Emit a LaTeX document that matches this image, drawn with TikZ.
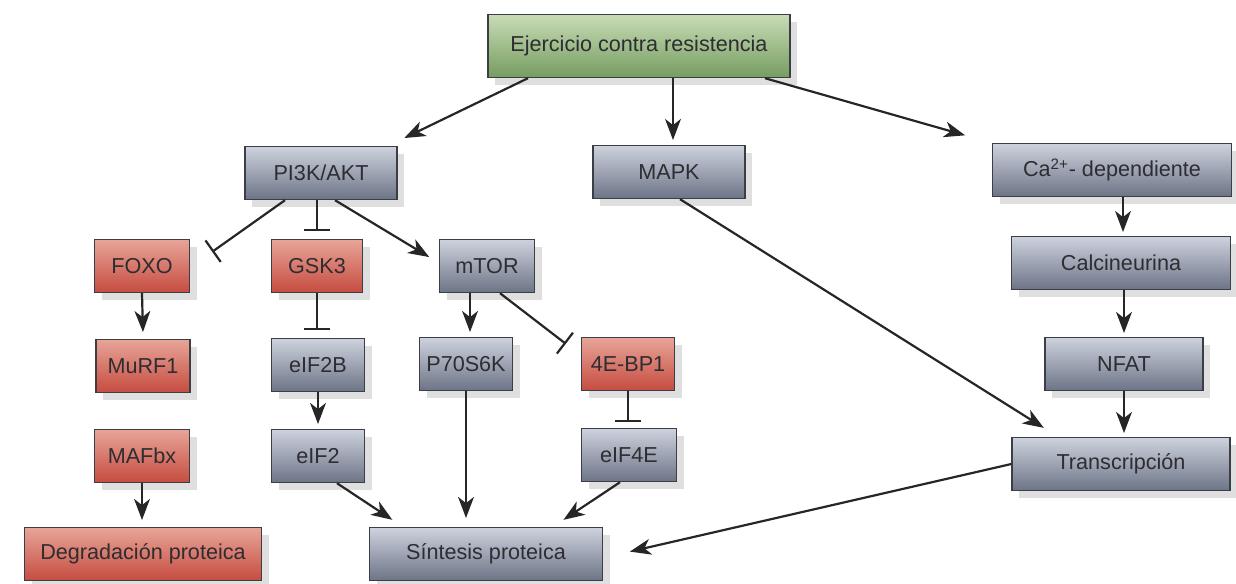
\documentclass[tikz,border=0pt]{standalone}
\usepackage{fontspec}
\setmainfont{Liberation Sans}
\usepackage{tikz}
\usetikzlibrary{arrows.meta, shadows, calc}

\definecolor{gristop}{RGB}{206,210,222}
\definecolor{grisbot}{RGB}{108,116,134}
\definecolor{rojotop}{RGB}{232,164,152}
\definecolor{rojobot}{RGB}{198,76,64}
\definecolor{verdetop}{RGB}{200,220,182}
\definecolor{verdebot}{RGB}{118,156,96}
\definecolor{borde}{RGB}{60,62,70}
\definecolor{texto}{RGB}{45,45,50}

\begin{document}
\begin{tikzpicture}[x = 0.02cm, y = -0.02cm, > = {Stealth[length=12pt, width=9pt, inset=3.5pt]},
    shorten > = 1pt, line width = 1.25pt, draw = black!85,
    caja/.style = {rectangle, draw = borde, line width = 0.8pt, minimum height = 1.06cm,
        inner sep = 2pt, text = texto, font = \fontsize{12.3}{14}\selectfont,
        drop shadow = {shadow xshift = 4pt, shadow yshift = -4pt, fill = black!25, opacity = .5}},
    gris/.style = {caja, top color = gristop, bottom color = grisbot},
    rojo/.style = {caja, top color = rojotop, bottom color = rojobot},
    verde/.style = {caja, top color = verdetop, bottom color = verdebot},
    inh/.style = {-{Bar[width=15pt]}, shorten > = 0pt}]
    \useasboundingbox (0, 0) rectangle (1236, 584);
    % nivel 1
    \node[verde, minimum width = 6.04cm, minimum height = 1.26cm] (ejer) at (639, 46) {Ejercicio contra resistencia};
    % nivel 2
    \node[gris, minimum width = 3.04cm] (pi3k) at (321, 173) {PI3K/AKT};
    \node[gris, minimum width = 3.04cm] (mapk) at (669, 172) {MAPK};
    \node[gris, minimum width = 4.78cm] (ca)   at (1112, 170) {Ca\textsuperscript{2+}- dependiente};
    % nivel 3
    \node[rojo, minimum width = 1.9cm]  (foxo) at (142, 266) {FOXO};
    \node[rojo, minimum width = 1.82cm] (gsk3) at (317, 266) {GSK3};
    \node[gris, minimum width = 1.9cm]  (mtor) at (487, 266) {mTOR};
    \node[gris, minimum width = 4.38cm] (calc) at (1121, 263) {Calcineurina};
    % nivel 4
    \node[rojo, minimum width = 1.88cm] (murf)  at (143, 366) {MuRF1};
    \node[gris, minimum width = 1.86cm] (eif2b) at (318, 365) {eIF2B};
    \node[gris, minimum width = 1.86cm] (p70)   at (466, 364) {P70S6K};
    \node[rojo, minimum width = 1.86cm] (bp1)   at (628, 364) {4E-BP1};
    \node[gris, minimum width = 3.16cm] (nfat)  at (1124, 364) {NFAT};
    % nivel 5
    \node[rojo, minimum width = 1.9cm]  (mafbx) at (142, 456) {MAFbx};
    \node[gris, minimum width = 1.86cm] (eif2)  at (318, 456) {eIF2};
    \node[gris, minimum width = 1.9cm]  (eif4e) at (629, 455) {eIF4E};
    \node[gris, minimum width = 4.36cm] (trans) at (1121, 464) {Transcripción};
    % nivel 6
    \node[rojo, minimum width = 4.74cm] (degr) at (143, 554) {Degradación proteica};
    \node[gris, minimum width = 4.66cm] (sint) at (486, 554) {Síntesis proteica};

    \draw[->] ($(ejer.south)+(-111, 0)$) -- ($(pi3k.north east)+(5, -7)$);
    \draw[->] ($(ejer.south)+(34, 0)$) -- ($(mapk.north)+(4, -3)$);
    \draw[->] ($(ejer.south)+(126, 0)$) -- ($(ca.north west)+(-25, -7)$);
    \draw[inh] ($(pi3k.south)+(-36, 0)$) -- ($(foxo.north east)+(22, 13)$);
    \draw[inh] ($(pi3k.south)+(-4, 0)$) -- ($(gsk3.north)+(0, -8)$);
    \draw[->] ($(pi3k.south)+(14, 0)$) -- ($(mtor.west)+(-8, -8)$);
    \draw[->] ($(mapk.south)+(11, 0)$) -- ($(trans.north west)+(34, -8)$);
    \draw[->] ($(ca.south)+(11, 0)$) -- ($(calc.north)+(2, -2)$);
    \draw[->] (nfat.north |- calc.south) -- ($(nfat.north)+(0, -2)$);
    \draw[->] (nfat.south) -- ($(nfat.south |- trans.north)+(0, -2)$);
    \draw[->] (foxo.south) -- ($(murf.north)+(0, -5)$);
    \draw[inh] (gsk3.south) -- ($(eif2b.north)+(-1, -8)$);
    \draw[->] ($(p70.north |- mtor.south)+(4, 0)$) -- ($(p70.north)+(4, -3)$);
    \draw[inh] ($(mtor.south)+(13, 0)$) -- ($(bp1.north west)+(-15, 7)$);
    \draw[->] (eif2b.south) -- ($(eif2.north)+(0, -3)$);
    \draw[inh] (bp1.south) -- ($(eif4e.north)+(-1, -6)$);
    \draw[->] (mafbx.south) -- ($(mafbx.south |- degr.north)+(0, -5)$);
    \draw[->] ($(eif2.south)+(19, 0)$) -- ($(sint.north west)+(25, -6)$);
    \draw[->] (p70.south) -- ($(p70.south |- sint.north)+(0, -7)$);
    \draw[->] ($(eif4e.south)+(-9, 0)$) -- ($(sint.north)+(76, -6)$);
    \draw[->] (trans.west) -- ($(sint.east)+(25, -2)$);
\end{tikzpicture}
\end{document}
